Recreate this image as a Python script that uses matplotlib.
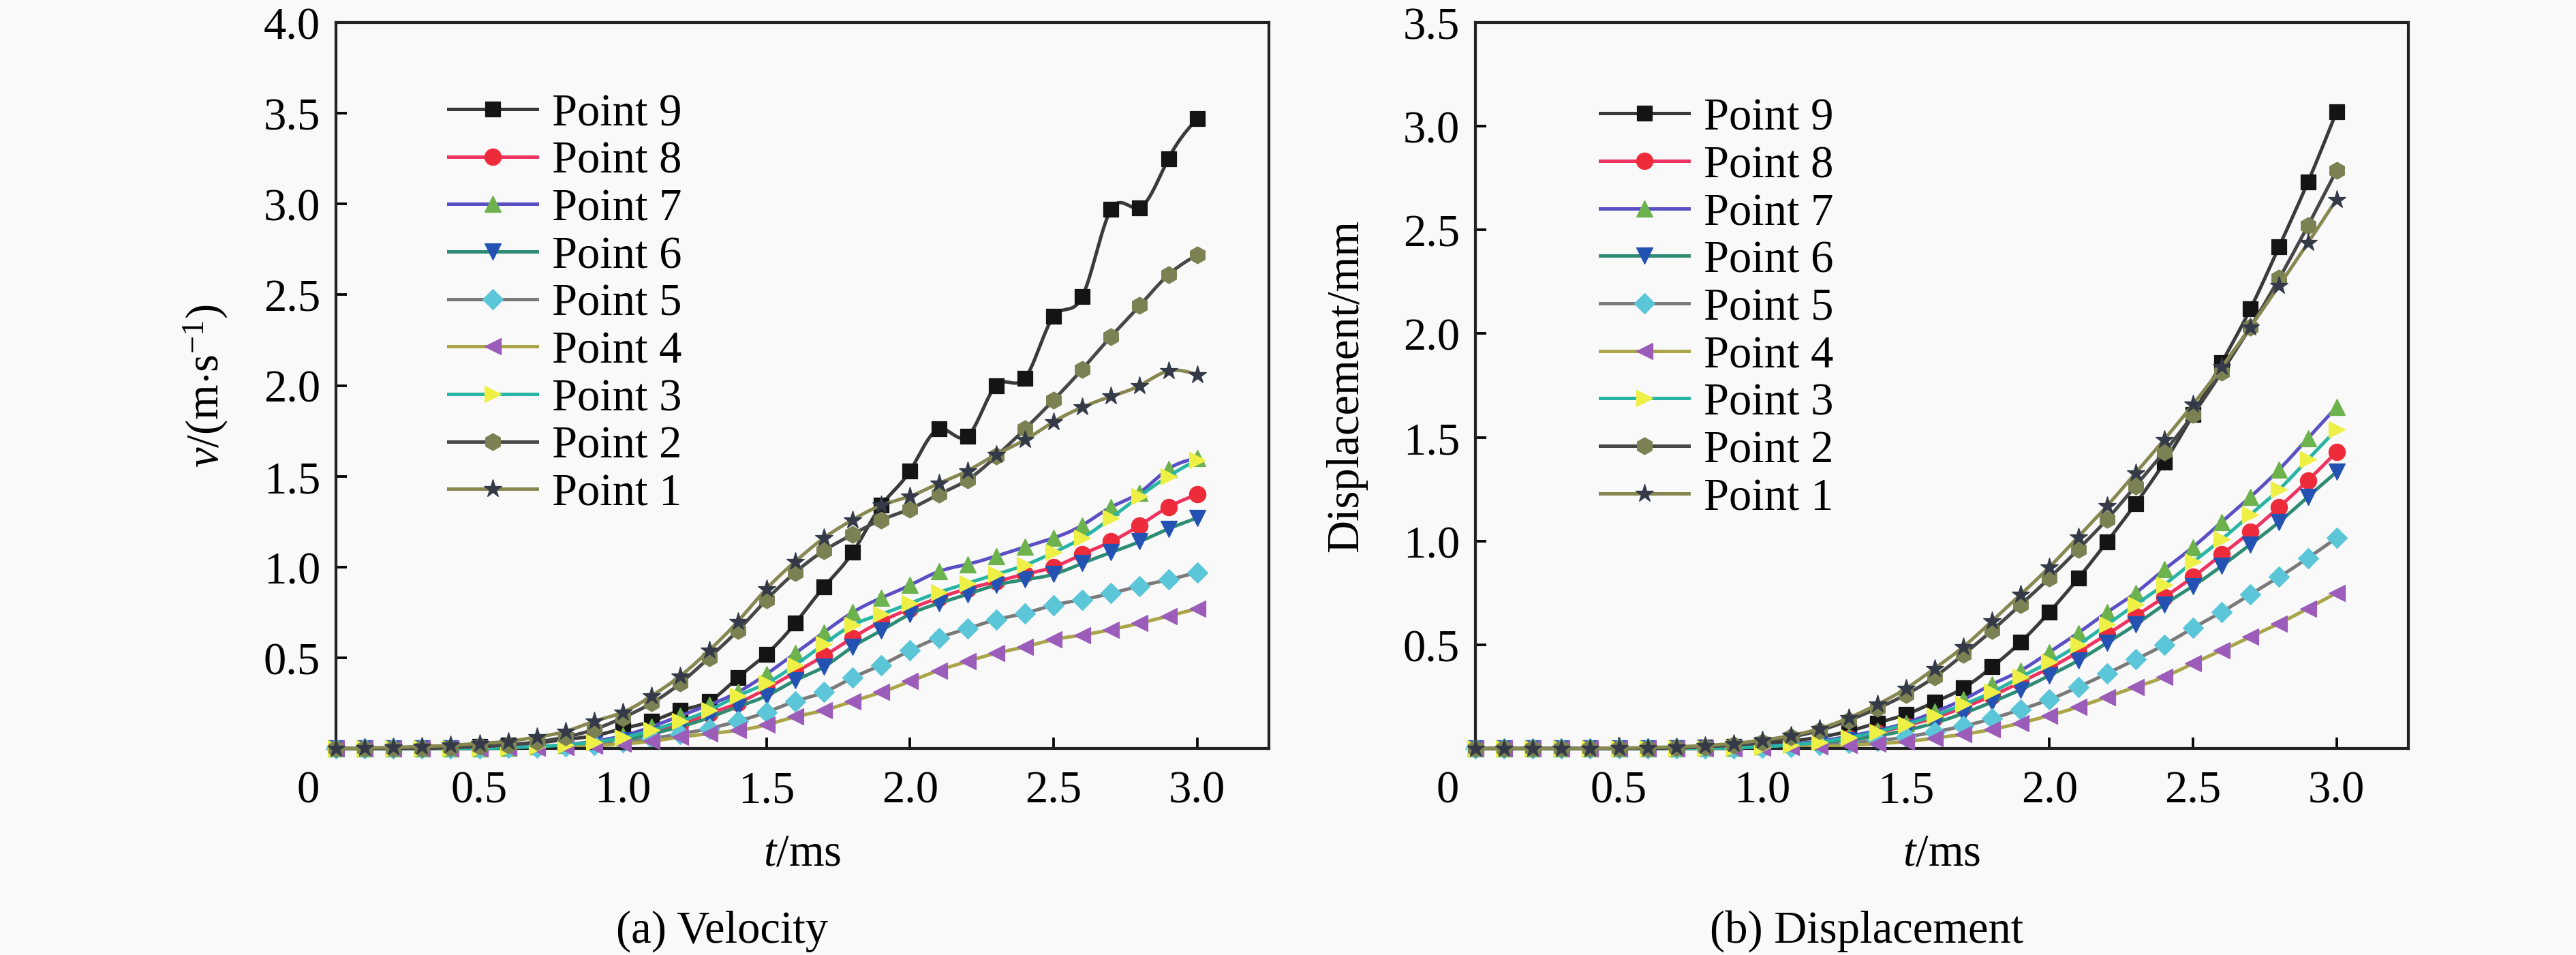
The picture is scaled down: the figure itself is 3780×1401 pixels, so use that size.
import numpy as np
import matplotlib
matplotlib.use("Agg")
import matplotlib.pyplot as plt
from matplotlib.transforms import ScaledTranslation

plt.rcParams['font.family'] = ['Liberation Serif', 'DejaVu Serif']
plt.rcParams['mathtext.fontset'] = 'custom'
plt.rcParams['mathtext.rm'] = 'Liberation Serif'
plt.rcParams['mathtext.it'] = 'Liberation Serif:italic'

# ---------------- data ----------------
t = [round(0.1 * i, 1) for i in range(31)]

labels = ["Point 9", "Point 8", "Point 7", "Point 6", "Point 5",
          "Point 4", "Point 3", "Point 2", "Point 1"]

vel_p9 = [0, 0, 0, 0, 0.005, 0.01, 0.02, 0.03, 0.05, 0.07, 0.11, 0.15, 0.21, 0.26, 0.39, 0.52,
          0.69, 0.89, 1.08, 1.34, 1.53, 1.76, 1.72, 2.00, 2.04, 2.38, 2.49, 2.97, 2.98, 3.25, 3.47]
vel_p8 = [0, 0, 0, 0, 0, 0, 0.004, 0.008, 0.016, 0.03, 0.05, 0.09, 0.13, 0.19, 0.25, 0.33,
          0.42, 0.51, 0.61, 0.70, 0.77, 0.83, 0.88, 0.92, 0.96, 1.00, 1.07, 1.14, 1.23, 1.33, 1.40]
vel_p7 = [0, 0, 0, 0, 0, 0, 0.005, 0.01, 0.02, 0.04, 0.07, 0.12, 0.18, 0.24, 0.31, 0.41,
          0.525, 0.64, 0.75, 0.83, 0.90, 0.975, 1.015, 1.06, 1.11, 1.16, 1.23, 1.33, 1.41, 1.54, 1.60]
vel_p6 = [0, 0, 0, 0, 0, 0, 0.003, 0.007, 0.014, 0.025, 0.045, 0.08, 0.12, 0.17, 0.23, 0.29,
          0.375, 0.45, 0.56, 0.65, 0.74, 0.80, 0.85, 0.90, 0.93, 0.96, 1.02, 1.08, 1.14, 1.21, 1.27]
vel_p5 = [0, 0, 0, 0, 0, 0, 0.002, 0.005, 0.01, 0.02, 0.035, 0.055, 0.08, 0.11, 0.15, 0.20,
          0.26, 0.31, 0.39, 0.46, 0.54, 0.61, 0.66, 0.71, 0.745, 0.79, 0.82, 0.855, 0.895, 0.93, 0.97]
vel_p4 = [0, 0, 0, 0, 0, 0, 0.002, 0.004, 0.008, 0.015, 0.025, 0.04, 0.063, 0.081, 0.10, 0.13,
          0.175, 0.21, 0.26, 0.31, 0.37, 0.43, 0.48, 0.525, 0.56, 0.60, 0.625, 0.655, 0.69, 0.73, 0.77]
vel_p3 = [0, 0, 0, 0, 0, 0, 0.005, 0.01, 0.02, 0.035, 0.06, 0.10, 0.15, 0.21, 0.29, 0.36,
          0.46, 0.575, 0.68, 0.74, 0.80, 0.86, 0.91, 0.96, 1.01, 1.08, 1.16, 1.27, 1.39, 1.50, 1.59]
vel_p2 = [0, 0, 0, 0, 0.005, 0.01, 0.02, 0.036, 0.063, 0.105, 0.17, 0.25, 0.36, 0.50, 0.65, 0.82,
          0.97, 1.09, 1.18, 1.26, 1.32, 1.40, 1.48, 1.61, 1.76, 1.92, 2.09, 2.27, 2.44, 2.61, 2.72]
vel_p1 = [0, 0.003, 0.006, 0.011, 0.017, 0.028, 0.039, 0.063, 0.094, 0.15, 0.20, 0.29, 0.40, 0.54,
          0.70, 0.88, 1.03, 1.16, 1.26, 1.34, 1.39, 1.46, 1.53, 1.62, 1.70, 1.80, 1.88, 1.94, 2.00, 2.08, 2.06]

dis_p9 = [0, 0, 0, 0, 0, 0, 0, 0.002, 0.005, 0.01, 0.02, 0.035, 0.055, 0.083, 0.123, 0.164,
          0.224, 0.291, 0.393, 0.513, 0.658, 0.82, 0.996, 1.18, 1.38, 1.61, 1.86, 2.12, 2.42, 2.73, 3.07]
dis_p8 = [0, 0, 0, 0, 0, 0, 0, 0, 0.001, 0.003, 0.007, 0.015, 0.028, 0.048, 0.075, 0.11,
          0.148, 0.198, 0.254, 0.32, 0.388, 0.465, 0.55, 0.639, 0.73, 0.827, 0.935, 1.044, 1.164, 1.292, 1.43]
dis_p7 = [0, 0, 0, 0, 0, 0, 0, 0, 0.002, 0.004, 0.01, 0.02, 0.036, 0.058, 0.087, 0.123,
          0.176, 0.236, 0.309, 0.376, 0.465, 0.557, 0.656, 0.75, 0.863, 0.971, 1.092, 1.213, 1.345, 1.495, 1.646]
dis_p6 = [0, 0, 0, 0, 0, 0, 0, 0, 0.001, 0.002, 0.005, 0.012, 0.022, 0.038, 0.06, 0.087,
          0.123, 0.169, 0.224, 0.284, 0.352, 0.424, 0.509, 0.597, 0.694, 0.783, 0.88, 0.984, 1.092, 1.213, 1.333]
dis_p5 = [0, 0, 0, 0, 0, 0, 0, 0, 0, 0.001, 0.004, 0.008, 0.015, 0.025, 0.037, 0.055,
          0.08, 0.108, 0.144, 0.188, 0.236, 0.296, 0.361, 0.429, 0.50, 0.581, 0.658, 0.743, 0.827, 0.918, 1.015]
dis_p4 = [0, 0, 0, 0, 0, 0, 0, 0, 0, 0.001, 0.002, 0.005, 0.009, 0.015, 0.023, 0.033,
          0.05, 0.068, 0.092, 0.123, 0.159, 0.20, 0.248, 0.296, 0.345, 0.41, 0.473, 0.538, 0.603, 0.675, 0.75]
dis_p3 = [0, 0, 0, 0, 0, 0, 0, 0, 0.001, 0.003, 0.008, 0.017, 0.031, 0.052, 0.08, 0.116,
          0.159, 0.212, 0.272, 0.345, 0.416, 0.50, 0.597, 0.694, 0.79, 0.899, 1.008, 1.128, 1.249, 1.393, 1.538]
dis_p2 = [0, 0, 0, 0, 0, 0, 0.001, 0.003, 0.008, 0.016, 0.03, 0.055, 0.087, 0.135, 0.193, 0.26,
          0.345, 0.453, 0.569, 0.694, 0.822, 0.96, 1.104, 1.266, 1.43, 1.61, 1.815, 2.032, 2.266, 2.52, 2.787]
dis_p1 = [0, 0, 0, 0, 0.001, 0.002, 0.004, 0.008, 0.014, 0.024, 0.04, 0.062, 0.096, 0.147, 0.212,
          0.289, 0.386, 0.49, 0.615, 0.743, 0.875, 1.02, 1.169, 1.328, 1.49, 1.659, 1.839, 2.032, 2.232, 2.437, 2.647]

vel_series = [vel_p9, vel_p8, vel_p7, vel_p6, vel_p5, vel_p4, vel_p3, vel_p2, vel_p1]
dis_series = [dis_p9, dis_p8, dis_p7, dis_p6, dis_p5, dis_p4, dis_p3, dis_p2, dis_p1]

x_ticks = [0.5, 1.0, 1.5, 2.0, 2.5, 3.0]
x_ticklabels = ["0.5", "1.0", "1.5", "2.0", "2.5", "3.0"]
v_ticks = [0.5, 1.0, 1.5, 2.0, 2.5, 3.0, 3.5, 4.0]
v_ticklabels = ["0.5", "1.0", "1.5", "2.0", "2.5", "3.0", "3.5", "4.0"]
d_ticks = [0.5, 1.0, 1.5, 2.0, 2.5, 3.0, 3.5]
d_ticklabels = ["0.5", "1.0", "1.5", "2.0", "2.5", "3.0", "3.5"]

# ---------------- styles ----------------
line_colors = ["#3a3a3a", "#ee3360", "#5a4fc4", "#2e8b74", "#7a7a7a",
               "#a9a548", "#28b5a5", "#474747", "#878752"]
marker_colors = ["#141414", "#ee2b3b", "#6db34d", "#2452b3", "#5cc6d9",
                 "#9b5cba", "#eef046", "#7b8152", "#343a48"]
markers = ["s", "o", "^", "v", "D", "<", ">", "h", "*"]
msizes = [5.4, 5.8, 5.8, 5.8, 5.0, 5.8, 5.8, 6.0, 6.8]

bg = "#f9f9f9"
FS = 16
LW = 1.2


def spline(x, y, n=12):
    x = np.asarray(x, float)
    y = np.asarray(y, float)
    N = len(x)
    h = np.diff(x)
    A = np.zeros((N, N))
    r = np.zeros(N)
    A[0, 0] = 1.0
    A[-1, -1] = 1.0
    for i in range(1, N - 1):
        A[i, i - 1] = h[i - 1]
        A[i, i] = 2 * (h[i - 1] + h[i])
        A[i, i + 1] = h[i]
        r[i] = 6 * ((y[i + 1] - y[i]) / h[i] - (y[i] - y[i - 1]) / h[i - 1])
    M = np.linalg.solve(A, r)
    xs, ys = [], []
    for i in range(N - 1):
        s = np.linspace(x[i], x[i + 1], n, endpoint=(i == N - 2))
        a = x[i + 1] - s
        b = s - x[i]
        v = (M[i] * a ** 3 + M[i + 1] * b ** 3) / (6 * h[i]) \
            + (y[i] / h[i] - M[i] * h[i] / 6) * a + (y[i + 1] / h[i] - M[i + 1] * h[i] / 6) * b
        xs.append(s)
        ys.append(v)
    return np.concatenate(xs), np.concatenate(ys)


W, H = 3780, 1402
fig = plt.figure(figsize=(W / 300, H / 300), dpi=300, facecolor=bg)
axL = fig.add_axes([493 / W, (H - 1099) / H, 1369 / W, 1065 / H])
axR = fig.add_axes([2165 / W, (H - 1099) / H, 1369 / W, 1065 / H])


def draw(ax, series, ymax, yticks, yticklabels, ylabel, ylab_x, leg_x, leg_y):
    ax.set_facecolor(bg)
    handles = []
    for i, ys in enumerate(series):
        xs_s, ys_s = spline(t, ys)
        ax.plot(xs_s, ys_s, color=line_colors[i], lw=LW, zorder=2 + i * 0.1, clip_on=False)
        ax.plot(t, ys, ls="none", marker=markers[i], ms=msizes[i], mfc=marker_colors[i],
                mec=marker_colors[i], mew=0.3, zorder=2.05 + i * 0.1, clip_on=False)
        h, = ax.plot([], [], color=line_colors[i], lw=LW, marker=markers[i], ms=msizes[i],
                     mfc=marker_colors[i], mec=marker_colors[i], mew=0.3)
        handles.append(h)
    ax.set_xlim(0, 3.25)
    ax.set_ylim(0, ymax)
    ax.set_xticks(x_ticks)
    ax.set_xticklabels(x_ticklabels)
    ax.set_yticks(yticks)
    ax.set_yticklabels(yticklabels)
    ax.tick_params(axis="both", direction="in", length=3.8, width=0.9, labelsize=FS,
                   top=False, right=False)
    ax.tick_params(axis="x", pad=7.5)
    ax.tick_params(axis="y", pad=5.5)
    for sp in ax.spines.values():
        sp.set_linewidth(1.0)
        sp.set_color("#222222")
    off = ScaledTranslation(-41 / 300, -7.5 / 72, fig.dpi_scale_trans)
    ax.text(0, 0, "0", transform=ax.transData + off, ha="center", va="top", fontsize=FS)
    ax.set_ylabel(ylabel, fontsize=FS, va="center")
    ax.yaxis.set_label_coords(ylab_x, 0.5)
    ax.set_xlabel(r"$\mathit{t}$/ms", fontsize=FS, va="center")
    ax.xaxis.set_label_coords(0.5, -0.1446)
    ax.legend(handles, labels, loc="upper left", bbox_to_anchor=(leg_x, leg_y),
              frameon=False, fontsize=FS, numpoints=1, handlelength=1.95,
              handletextpad=0.33, labelspacing=0.13, borderpad=0, borderaxespad=0)


draw(axL, vel_series, 4.0, v_ticks, v_ticklabels,
     r"$\mathit{v}/(\mathrm{m{\cdot}s^{-1}})$", -0.140, 0.1205, 0.903)
draw(axR, dis_series, 3.5, d_ticks, d_ticklabels,
     "Displacement/mm", -0.138, 0.134, 0.897)

fig.text(1060 / W, (H - 1366) / H, "(a) Velocity", ha="center", va="center", fontsize=FS)
fig.text(2739 / W, (H - 1366) / H, "(b) Displacement", ha="center", va="center", fontsize=FS)

fig.savefig("out.png", dpi=300, facecolor=bg)
